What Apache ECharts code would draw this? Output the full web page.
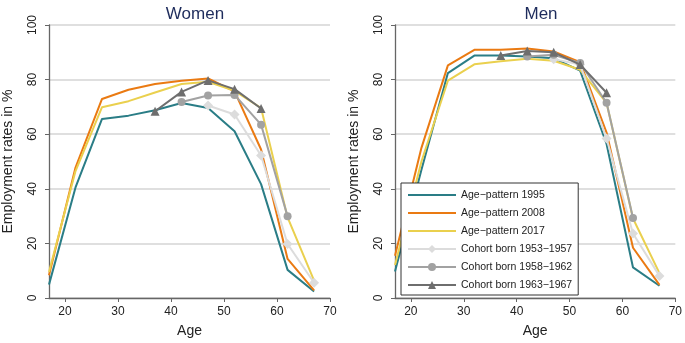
<!DOCTYPE html>
<html>
<head>
<meta charset="utf-8">
<script src="https://cdn.jsdelivr.net/npm/echarts@6/dist/echarts.min.js"></script>
<style>
  html, body { margin: 0; padding: 0; background: #fff; }
  #chart { width: 685px; height: 343px; }
</style>
</head>
<body>
<div id="chart"></div>
<script>
// ages at which the rates were read (5-year steps)
const ages = [17, 22, 27, 32, 37, 42, 47, 52, 57, 62, 67];
const xTicks = [20, 30, 40, 50, 60, 70];

const seriesNames = [
  'Age\u2212pattern 1995',
  'Age\u2212pattern 2008',
  'Age\u2212pattern 2017',
  'Cohort born 1953\u22121957',
  'Cohort born 1958\u22121962',
  'Cohort born 1963\u22121967'
];

// Women
const women1995 = [4.9, 40.5, 65.6, 66.8, 68.8, 71.4, 69.6, 61.1, 41.7, 10.3, 2.4];
const women2008 = [8.3, 47.8, 72.9, 76.3, 78.4, 79.6, 80.4, 75.7, 54.4, 14.3, 2.8];
const women2017 = [9.5, 46.5, 69.9, 72.1, 75.3, 78.4, 79.2, 75.9, 69.6, 29.5, 6.4];
const womenC5357 = [null, null, null, null, null, null, 70.5, 67.2, 52.2, 19.8, 5.6];
const womenC5862 = [null, null, null, null, null, 71.8, 74.2, 74.4, 63.5, 29.9, null];
const womenC6367 = [null, null, null, null, 68.4, 75.5, 79.7, 76.5, 69.4, null, null];

// Men
const men1995 = [9.7, 47.0, 82.4, 88.8, 88.8, 88.5, 87.8, 83.3, 56.4, 11.2, 4.5];
const men2008 = [15.5, 55.0, 85.2, 90.9, 90.9, 91.4, 90.3, 86.4, 60.6, 18.4, 4.8];
const men2017 = [12.1, 50.0, 79.6, 85.6, 86.7, 87.6, 86.9, 83.6, 71.5, 29.1, 9.1];
const menC5357 = [null, null, null, null, null, null, 87.5, 85.5, 58.4, 23.6, 8.1];
const menC5862 = [null, null, null, null, null, 88.5, 89.1, 86.1, 71.5, 29.3, null];
const menC6367 = [null, null, null, null, 88.8, 90.5, 90.0, 85.5, 75.2, null, null];

const styles = [
  { color: '#2a7d86', symbol: 'none', size: 0 },
  { color: '#ea7a12', symbol: 'none', size: 0 },
  { color: '#ead04e', symbol: 'none', size: 0 },
  { color: '#dcdcdc', symbol: 'diamond', size: 10 },
  { color: '#a2a2a2', symbol: 'circle', size: 8 },
  { color: '#6e6e6e', symbol: 'triangle', size: 9 }
];

const pairs = vals => ages.map((a, i) => [a, vals[i]]);

function makeSeries(valueLists, panel) {
  return valueLists.map((vals, i) => ({
    name: seriesNames[i],
    type: 'line',
    xAxisIndex: panel,
    yAxisIndex: panel,
    data: pairs(vals),
    symbol: styles[i].symbol,
    symbolSize: styles[i].size,
    showSymbol: styles[i].symbol !== 'none',
    connectNulls: false,
    animation: false,
    z: 2 + i,
    lineStyle: { color: styles[i].color, width: 2 },
    itemStyle: { color: styles[i].color }
  }));
}

function xAxis(gridIndex) {
  return {
    type: 'value',
    gridIndex: gridIndex,
    min: 17,
    max: 70,
    name: 'Age',
    nameLocation: 'middle',
    nameGap: 26,
    nameTextStyle: { fontSize: 14, color: '#222', fontFamily: 'Liberation Sans' },
    axisLine: { lineStyle: { color: '#666', width: 1.3 } },
    axisTick: { customValues: xTicks, length: 4, lineStyle: { color: '#666' } },
    axisLabel: { customValues: xTicks, fontSize: 12, color: '#222', margin: 8, fontFamily: 'Liberation Sans' },
    splitLine: { show: false }
  };
}

function yAxis(gridIndex) {
  return {
    type: 'value',
    gridIndex: gridIndex,
    min: 0,
    max: 100,
    interval: 20,
    name: 'Employment rates in %',
    nameLocation: 'middle',
    nameGap: 34,
    nameTextStyle: { fontSize: 14, color: '#222', fontFamily: 'Liberation Sans' },
    axisLine: { show: true, lineStyle: { color: '#666', width: 1.3 } },
    axisTick: { show: true, length: 4, lineStyle: { color: '#666' } },
    axisLabel: { rotate: 90, fontSize: 12, color: '#222', margin: 10, fontFamily: 'Liberation Sans' },
    splitLine: { lineStyle: { color: '#d4d4d4', width: 1.5 } }
  };
}

// plain lines in the legend for the age patterns (no marker)
const legendData = seriesNames.map((name, i) =>
  styles[i].symbol === 'none'
    ? { name: name, itemStyle: { color: 'rgba(0,0,0,0)', borderWidth: 0 } }
    : { name: name }
);

const chart = echarts.init(document.getElementById('chart'));

chart.setOption({
  backgroundColor: '#fff',
  animation: false,
  title: [
    { text: 'Women', left: 190, textAlign: 'center', top: 1,
      textStyle: { fontSize: 17, fontWeight: 'normal', color: '#1e2c5c', fontFamily: 'Liberation Sans' } },
    { text: 'Men', left: 536, textAlign: 'center', top: 1,
      textStyle: { fontSize: 17, fontWeight: 'normal', color: '#1e2c5c', fontFamily: 'Liberation Sans' } }
  ],
  grid: [
    { left: 49, right: 355, top: 25, bottom: 43 },
    { left: 395, right: 8, top: 25, bottom: 43 }
  ],
  xAxis: [xAxis(0), xAxis(1)],
  yAxis: [yAxis(0), yAxis(1)],
  legend: {
    orient: 'vertical',
    left: 401,
    top: 183,
    data: legendData,
    itemWidth: 48,
    itemHeight: 10,
    itemGap: 6,
    padding: [6, 6, 4, 6],
    backgroundColor: '#fff',
    borderColor: '#333',
    borderWidth: 1,
    borderRadius: 0,
    selectedMode: false,
    z: 10,
    textStyle: { fontSize: 10.5, color: '#222', lineHeight: 12, fontFamily: 'Liberation Sans' }
  },
  series: [
    ...makeSeries([women1995, women2008, women2017, womenC5357, womenC5862, womenC6367], 0),
    ...makeSeries([men1995, men2008, men2017, menC5357, menC5862, menC6367], 1)
  ]
});
</script>
</body>
</html>
